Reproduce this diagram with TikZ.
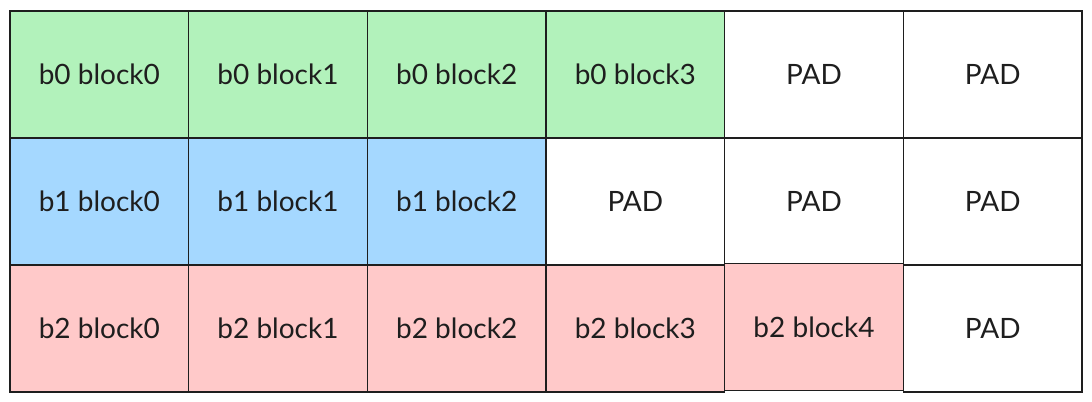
\documentclass[tikz,border=0pt]{standalone}
\usepackage{fontspec}
\setmainfont{Lato}
\usepackage{tikz}
\usetikzlibrary{positioning}
\definecolor{cellGreen}{HTML}{B2F2BB}
\definecolor{cellBlue}{HTML}{A5D8FF}
\definecolor{cellRed}{HTML}{FFC9C9}
\definecolor{cellLine}{HTML}{1E1E1E}
\tikzset{Cell/.style={%
    shape=rectangle,%
    draw=cellLine,%
    line width=1pt,%
    minimum width=134pt,%
    minimum height=95.25pt,%
    inner sep=0pt,%
    outer sep=0pt,%
    text=cellLine,%
    font=\fontsize{21}{24}\selectfont,%
}}
\tikzset{GreenCell/.style={Cell, fill=cellGreen}}
\tikzset{BlueCell/.style={Cell, fill=cellBlue}}
\tikzset{RedCell/.style={Cell, fill=cellRed}}
\tikzset{PadCell/.style={Cell, fill=white}}

\begin{document}
\begin{tikzpicture}[x=0.75pt, y=-0.75pt]
    \useasboundingbox (0,0) rectangle (1092,402);

    \node[GreenCell] (g0) at (99.35,74.5) {b0 block0};
    \node[GreenCell, right=0pt of g0] (g1) {b0 block1};
    \node[GreenCell, right=0pt of g1] (g2) {b0 block2};
    \node[GreenCell, right=0pt of g2] (g3) {b0 block3};
    \node[PadCell, right=0pt of g3] (p03) {PAD};
    \node[PadCell, right=0pt of p03] (p04) {PAD};

    \node[BlueCell, below=0pt of g0] (u0) {b1 block0};
    \node[BlueCell, right=0pt of u0] (u1) {b1 block1};
    \node[BlueCell, right=0pt of u1] (u2) {b1 block2};
    \node[PadCell, right=0pt of u2] (p12) {PAD};
    \node[PadCell, right=0pt of p12] (p13) {PAD};
    \node[PadCell, right=0pt of p13] (p14) {PAD};

    \node[RedCell, below=0pt of u0] (r0) {b2 block0};
    \node[RedCell, right=0pt of r0] (r1) {b2 block1};
    \node[RedCell, right=0pt of r1] (r2) {b2 block2};
    \node[RedCell, right=0pt of r2] (r3) {b2 block3};
    \node[RedCell, right=0pt of r3, yshift=1pt] (r4) {b2 block4};
    \node[PadCell, right=0pt of r3, xshift=134pt] (p24) {PAD};
\end{tikzpicture}
\end{document}
